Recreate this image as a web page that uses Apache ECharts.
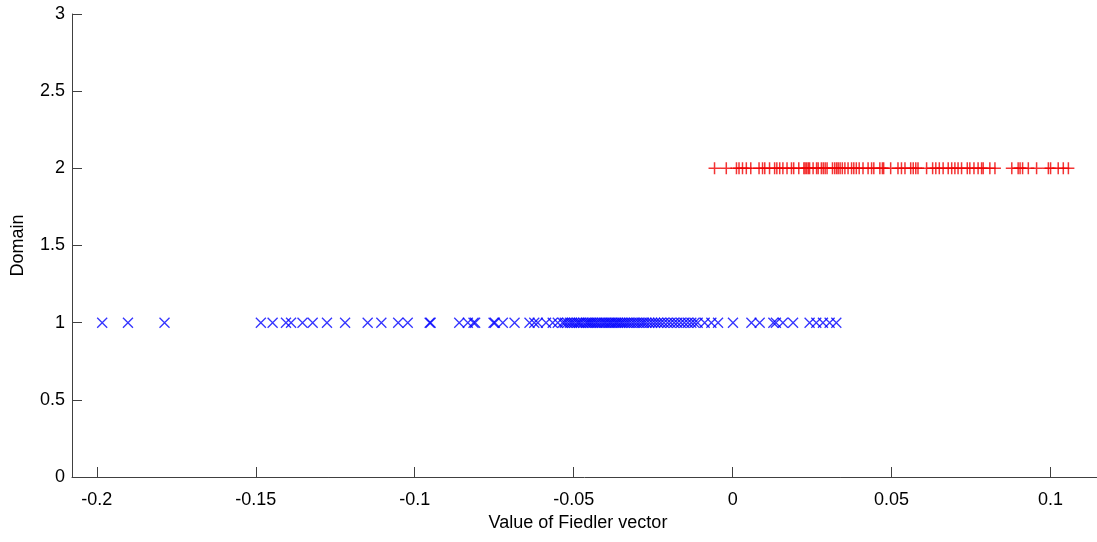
<!DOCTYPE html>
<html>
<head>
<meta charset="utf-8">
<script src="https://cdn.jsdelivr.net/npm/echarts@6/dist/echarts.min.js"></script>
<style>
  html, body { margin: 0; padding: 0; background: #fff; }
  #main { width: 1097px; height: 542px; }
</style>
</head>
<body>
<div id="main"></div>
<script>
// domain 1 (blue x markers)
var domain1 = [
  -0.1983, -0.1902, -0.1787, -0.1484, -0.1447, -0.1405, -0.1389, -0.1353,
  -0.1321, -0.1276, -0.1219, -0.1148, -0.1105, -0.1052, -0.1022,
  -0.0953, -0.0950, -0.0860, -0.0833, -0.0815, -0.0810, -0.0752, -0.0748,
  -0.0723, -0.0686, -0.0639, -0.0624, -0.0613, -0.0587, -0.0566, -0.0550,
  -0.0535, -0.0528, -0.0520, -0.0512, -0.0505, -0.0498, -0.0490, -0.0484,
  -0.0478, -0.0470, -0.0462, -0.0456, -0.0450, -0.0444, -0.0438, -0.0431,
  -0.0425, -0.0418, -0.0411, -0.0404, -0.0398, -0.0391, -0.0385, -0.0379,
  -0.0372, -0.0366, -0.0360, -0.0353, -0.0347, -0.0340, -0.0333, -0.0326,
  -0.0318, -0.0310, -0.0302, -0.0294, -0.0286, -0.0279, -0.0271, -0.0262,
  -0.0253, -0.0244, -0.0235, -0.0226, -0.0216, -0.0205, -0.0195, -0.0184,
  -0.0174, -0.0163, -0.0152, -0.0141, -0.0130, -0.0120, -0.0110,
  -0.0088, -0.0067, -0.0046, 0.0001, 0.0059, 0.0085, 0.0128, 0.0136,
  0.0158, 0.0190, 0.0242, 0.0263, 0.0284, 0.0305, 0.0326
];

// domain 2 (red + markers)
var domain2 = [
  -0.0057, -0.0020, 0.0012, 0.0020, 0.0031, 0.0043, 0.0057, 0.0083,
  0.0094, 0.0101, 0.0116, 0.0132, 0.0139, 0.0148, 0.0158, 0.0171,
  0.0185, 0.0192, 0.0208, 0.0224, 0.0228, 0.0233, 0.0238, 0.0242,
  0.0253, 0.0264, 0.0269, 0.0279, 0.0285, 0.0291, 0.0297, 0.0314,
  0.0321, 0.0327, 0.0332, 0.0338, 0.0345, 0.0353, 0.0363, 0.0374,
  0.0381, 0.0389, 0.0398, 0.0410, 0.0426, 0.0437, 0.0444, 0.0463,
  0.0471, 0.0475, 0.0497, 0.0520, 0.0531, 0.0542, 0.0560, 0.0568,
  0.0576, 0.0583, 0.0610, 0.0629, 0.0639, 0.0650, 0.0662, 0.0678,
  0.0689, 0.0699, 0.0709, 0.0720, 0.0738, 0.0746, 0.0759, 0.0772,
  0.0783, 0.0788, 0.0809, 0.0825, 0.0878, 0.0898, 0.0904, 0.0912,
  0.0930, 0.0956, 0.0993, 0.1000, 0.1024, 0.1040, 0.1056
];

var xTicks = [-0.2, -0.15, -0.1, -0.05, 0, 0.05, 0.1];

var chartDom = document.getElementById("main");
var myChart = echarts.init(chartDom);

var font = "Liberation Sans";
var axisColor = "#404040";

var option = {
  backgroundColor: "#fff",
  animation: false,
  grid: {
    left: 72,
    right: 0,
    top: 14,
    bottom: 65,
  },
  xAxis: {
    type: "value",
    min: -0.2078,
    max: 0.1146,
    name: "Value of Fiedler vector",
    nameLocation: "middle",
    nameGap: 35,
    nameTextStyle: {
      color: "#000",
      fontSize: 18,
      fontFamily: font,
      padding: [0, 13, 0, 0],
    },
    axisLine: { onZero: false, lineStyle: { color: axisColor, width: 1 } },
    axisTick: {
      inside: true,
      length: 10,
      customValues: xTicks,
      lineStyle: { color: axisColor },
    },
    axisLabel: {
      customValues: xTicks,
      margin: 14,
      color: "#000",
      fontSize: 18,
      fontFamily: font,
      formatter: function (v) {
        return String(parseFloat(v.toFixed(3)));
      },
    },
    splitLine: { show: false },
  },
  yAxis: {
    type: "value",
    min: 0,
    max: 3,
    interval: 0.5,
    name: "Domain",
    nameLocation: "middle",
    nameGap: 45,
    nameTextStyle: { color: "#000", fontSize: 18, fontFamily: font },
    axisLine: { show: true, onZero: false, lineStyle: { color: axisColor, width: 1 } },
    axisTick: { show: true, inside: true, length: 10, lineStyle: { color: axisColor } },
    axisLabel: {
      margin: 7,
      color: "#000",
      fontSize: 18,
      fontFamily: font,
    },
    splitLine: { show: false },
  },
  series: [
    {
      type: "scatter",
      symbol: "path://M0,0L10,10M10,0L0,10",
      symbolSize: 10,
      itemStyle: { color: "none", borderColor: "#0000ff", borderWidth: 1.3 },
      data: domain1.map(function (v) { return [v, 1]; }),
    },
    {
      type: "scatter",
      symbol: "path://M0,5L10,5M5,0L5,10",
      symbolSize: 12,
      itemStyle: { color: "none", borderColor: "#f00000", borderWidth: 1.5 },
      data: domain2.map(function (v) { return [v, 2]; }),
    },
  ],
};

myChart.setOption(option);
window.addEventListener("resize", function () {
  myChart.resize();
});
</script>
</body>
</html>
